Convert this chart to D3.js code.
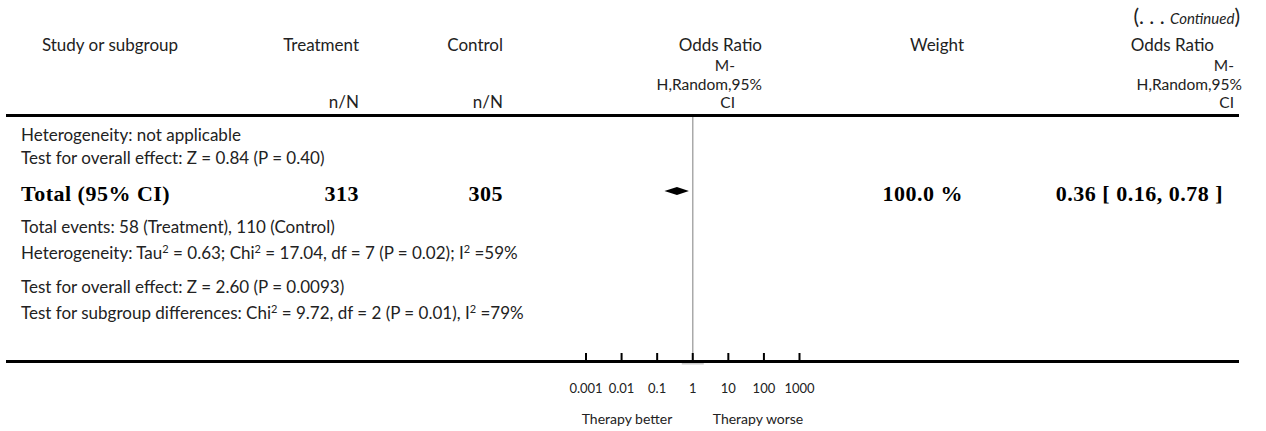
<!DOCTYPE html>
<html lang="en">
<head>
<meta charset="UTF-8">
<title>Forest plot (continued)</title>
<style>
    body { margin: 0; background: #fff; }
    text { font-family: 'Lato', sans-serif; font-size: 17px; fill: #222; }
    .sub { font-size: 15.5px; }
    .bold { font-family: 'Liberation Serif', serif; font-weight: bold; font-size: 22px; letter-spacing: 0.5px; fill: #000; }
    .tick text { font-size: 13px; }
</style>
</head>
<body>
<script src="https://cdn.jsdelivr.net/npm/d3@7"></script>
<script>
    const W = 1266, H = 431;

    // header
    const headers = [
        {x: 110, anchor: 'middle', text: 'Study or subgroup'},
        {x: 359, anchor: 'end', text: 'Treatment'},
        {x: 503, anchor: 'end', text: 'Control'},
        {x: 964, anchor: 'end', text: 'Weight'}
    ];
    const orHeader = ['Odds Ratio', 'M-', 'H,Random,95%', 'CI'];
    const nnLabel = 'n/N';

    // summary rows (left column text)
    const rowTexts = [
        'Heterogeneity: not applicable',
        'Test for overall effect: Z = 0.84 (P = 0.40)',
        null,
        'Total events: 58 (Treatment), 110 (Control)',
        'Heterogeneity: Tau² = 0.63; Chi² = 17.04, df = 7 (P = 0.02); I² =59%',
        'Test for overall effect: Z = 2.60 (P = 0.0093)',
        'Test for subgroup differences: Chi² = 9.72, df = 2 (P = 0.01), I² =79%'
    ];
    const rowY = [141, 164, 201, 233, 259, 293, 319];

    // total row
    const totalLabel = 'Total (95% CI)';
    const totalTreatment = 313;
    const totalControl = 305;
    const totalWeight = 100.0;
    const totalOR = 0.36, totalLo = 0.16, totalHi = 0.78;

    // axis
    const tickValues = [0.001, 0.01, 0.1, 1, 10, 100, 1000];
    const tickLabels = ['0.001', '0.01', '0.1', '1', '10', '100', '1000'];
    const favourLabels = ['Therapy better', 'Therapy worse'];

    const svg = d3.select('body').append('svg')
        .attr('width', W)
        .attr('height', H);

    const x = d3.scaleLog().domain([0.001, 1000]).range([586, 799.5]);

    // continued marker
    const cont = svg.append('text')
        .attr('x', 1240).attr('y', 24)
        .attr('text-anchor', 'end');
    cont.append('tspan').text('(. . . ').style('font-size', '21px');
    cont.append('tspan').text('Continued').style('font-style', 'italic').style('font-size', '15px');
    cont.append('tspan').text(')').style('font-size', '21px');

    headers.forEach(function(h) {
        svg.append('text')
            .attr('x', h.x).attr('y', 51)
            .attr('text-anchor', h.anchor)
            .text(h.text);
    });

    [359, 503].forEach(function(px) {
        svg.append('text')
            .attr('x', px).attr('y', 108)
            .attr('text-anchor', 'end')
            .text(nnLabel);
    });

    // two odds ratio header blocks
    const orYs = [51, 71, 89.5, 108];
    const orMid = [762, 735, 762, 735];
    const orRight = [1214, 1234, 1242, 1234];
    [orMid, orRight].forEach(function(ends) {
        orHeader.forEach(function(t, i) {
            svg.append('text')
                .attr('class', i > 0 ? 'sub' : null)
                .attr('x', ends[i]).attr('y', orYs[i])
                .attr('text-anchor', 'end')
                .text(t);
        });
    });

    // rules
    svg.append('rect').attr('x', 6).attr('y', 114).attr('width', 1233).attr('height', 3).style('fill', '#000');
    svg.append('rect').attr('x', 6).attr('y', 360).attr('width', 1233).attr('height', 3).style('fill', '#000');

    // line of no effect
    svg.append('line')
        .attr('x1', x(1)).attr('x2', x(1))
        .attr('y1', 117).attr('y2', 360)
        .style('stroke', '#aaa').style('stroke-width', 1.5);
    svg.append('rect')
        .attr('x', x(1) - 11).attr('y', 363).attr('width', 22).attr('height', 1.5)
        .style('fill', '#ccc');

    // summary text rows
    rowTexts.forEach(function(t, i) {
        if (!t) return;
        const el = svg.append('text').attr('x', 21).attr('y', rowY[i]);
        const parts = t.split('²');
        parts.forEach(function(p, j) {
            const ts = el.append('tspan').text(p);
            if (j > 0) ts.attr('dy', 6);
            if (j < parts.length - 1) {
                el.append('tspan').text('2').attr('dy', -6).style('font-size', '11px');
            }
        });
    });

    // total row
    const ty = rowY[2];
    svg.append('text').attr('class', 'bold').attr('x', 21).attr('y', ty).text(totalLabel);
    svg.append('text').attr('class', 'bold').attr('x', 359).attr('y', ty).attr('text-anchor', 'end').text(totalTreatment);
    svg.append('text').attr('class', 'bold').attr('x', 503).attr('y', ty).attr('text-anchor', 'end').text(totalControl);
    svg.append('text').attr('class', 'bold').attr('x', 963).attr('y', ty).attr('text-anchor', 'end')
        .text(d3.format('.1f')(totalWeight) + ' %');
    svg.append('text').attr('class', 'bold').attr('x', 1223).attr('y', ty).attr('text-anchor', 'end')
        .text(d3.format('.2f')(totalOR) + ' [ ' + d3.format('.2f')(totalLo) + ', ' + d3.format('.2f')(totalHi) + ' ]');

    // diamond
    const dy = 191, dh = 4;
    svg.append('path')
        .attr('d', 'M' + x(totalLo) + ',' + dy + 'L' + x(totalOR) + ',' + (dy - dh) +
            'L' + x(totalHi) + ',' + dy + 'L' + x(totalOR) + ',' + (dy + dh) + 'Z')
        .style('fill', '#000');

    // axis
    const axis = svg.append('g')
        .attr('class', 'tick')
        .attr('transform', 'translate(0,361)');
    axis.selectAll('rect').data(tickValues).enter().append('rect')
        .attr('x', function(d) { return x(d) - 1; })
        .attr('y', -8).attr('width', 2).attr('height', 8)
        .style('fill', '#000');
    axis.selectAll('text').data(tickValues).enter().append('text')
        .attr('x', function(d) { return x(d); })
        .attr('y', 32)
        .attr('text-anchor', 'middle')
        .text(function(d, i) { return tickLabels[i]; });

    svg.append('text').attr('x', 627).attr('y', 424).attr('text-anchor', 'middle')
        .style('font-size', '14px').text(favourLabels[0]);
    svg.append('text').attr('x', 758).attr('y', 424).attr('text-anchor', 'middle')
        .style('font-size', '14px').text(favourLabels[1]);
</script>
</body>
</html>
